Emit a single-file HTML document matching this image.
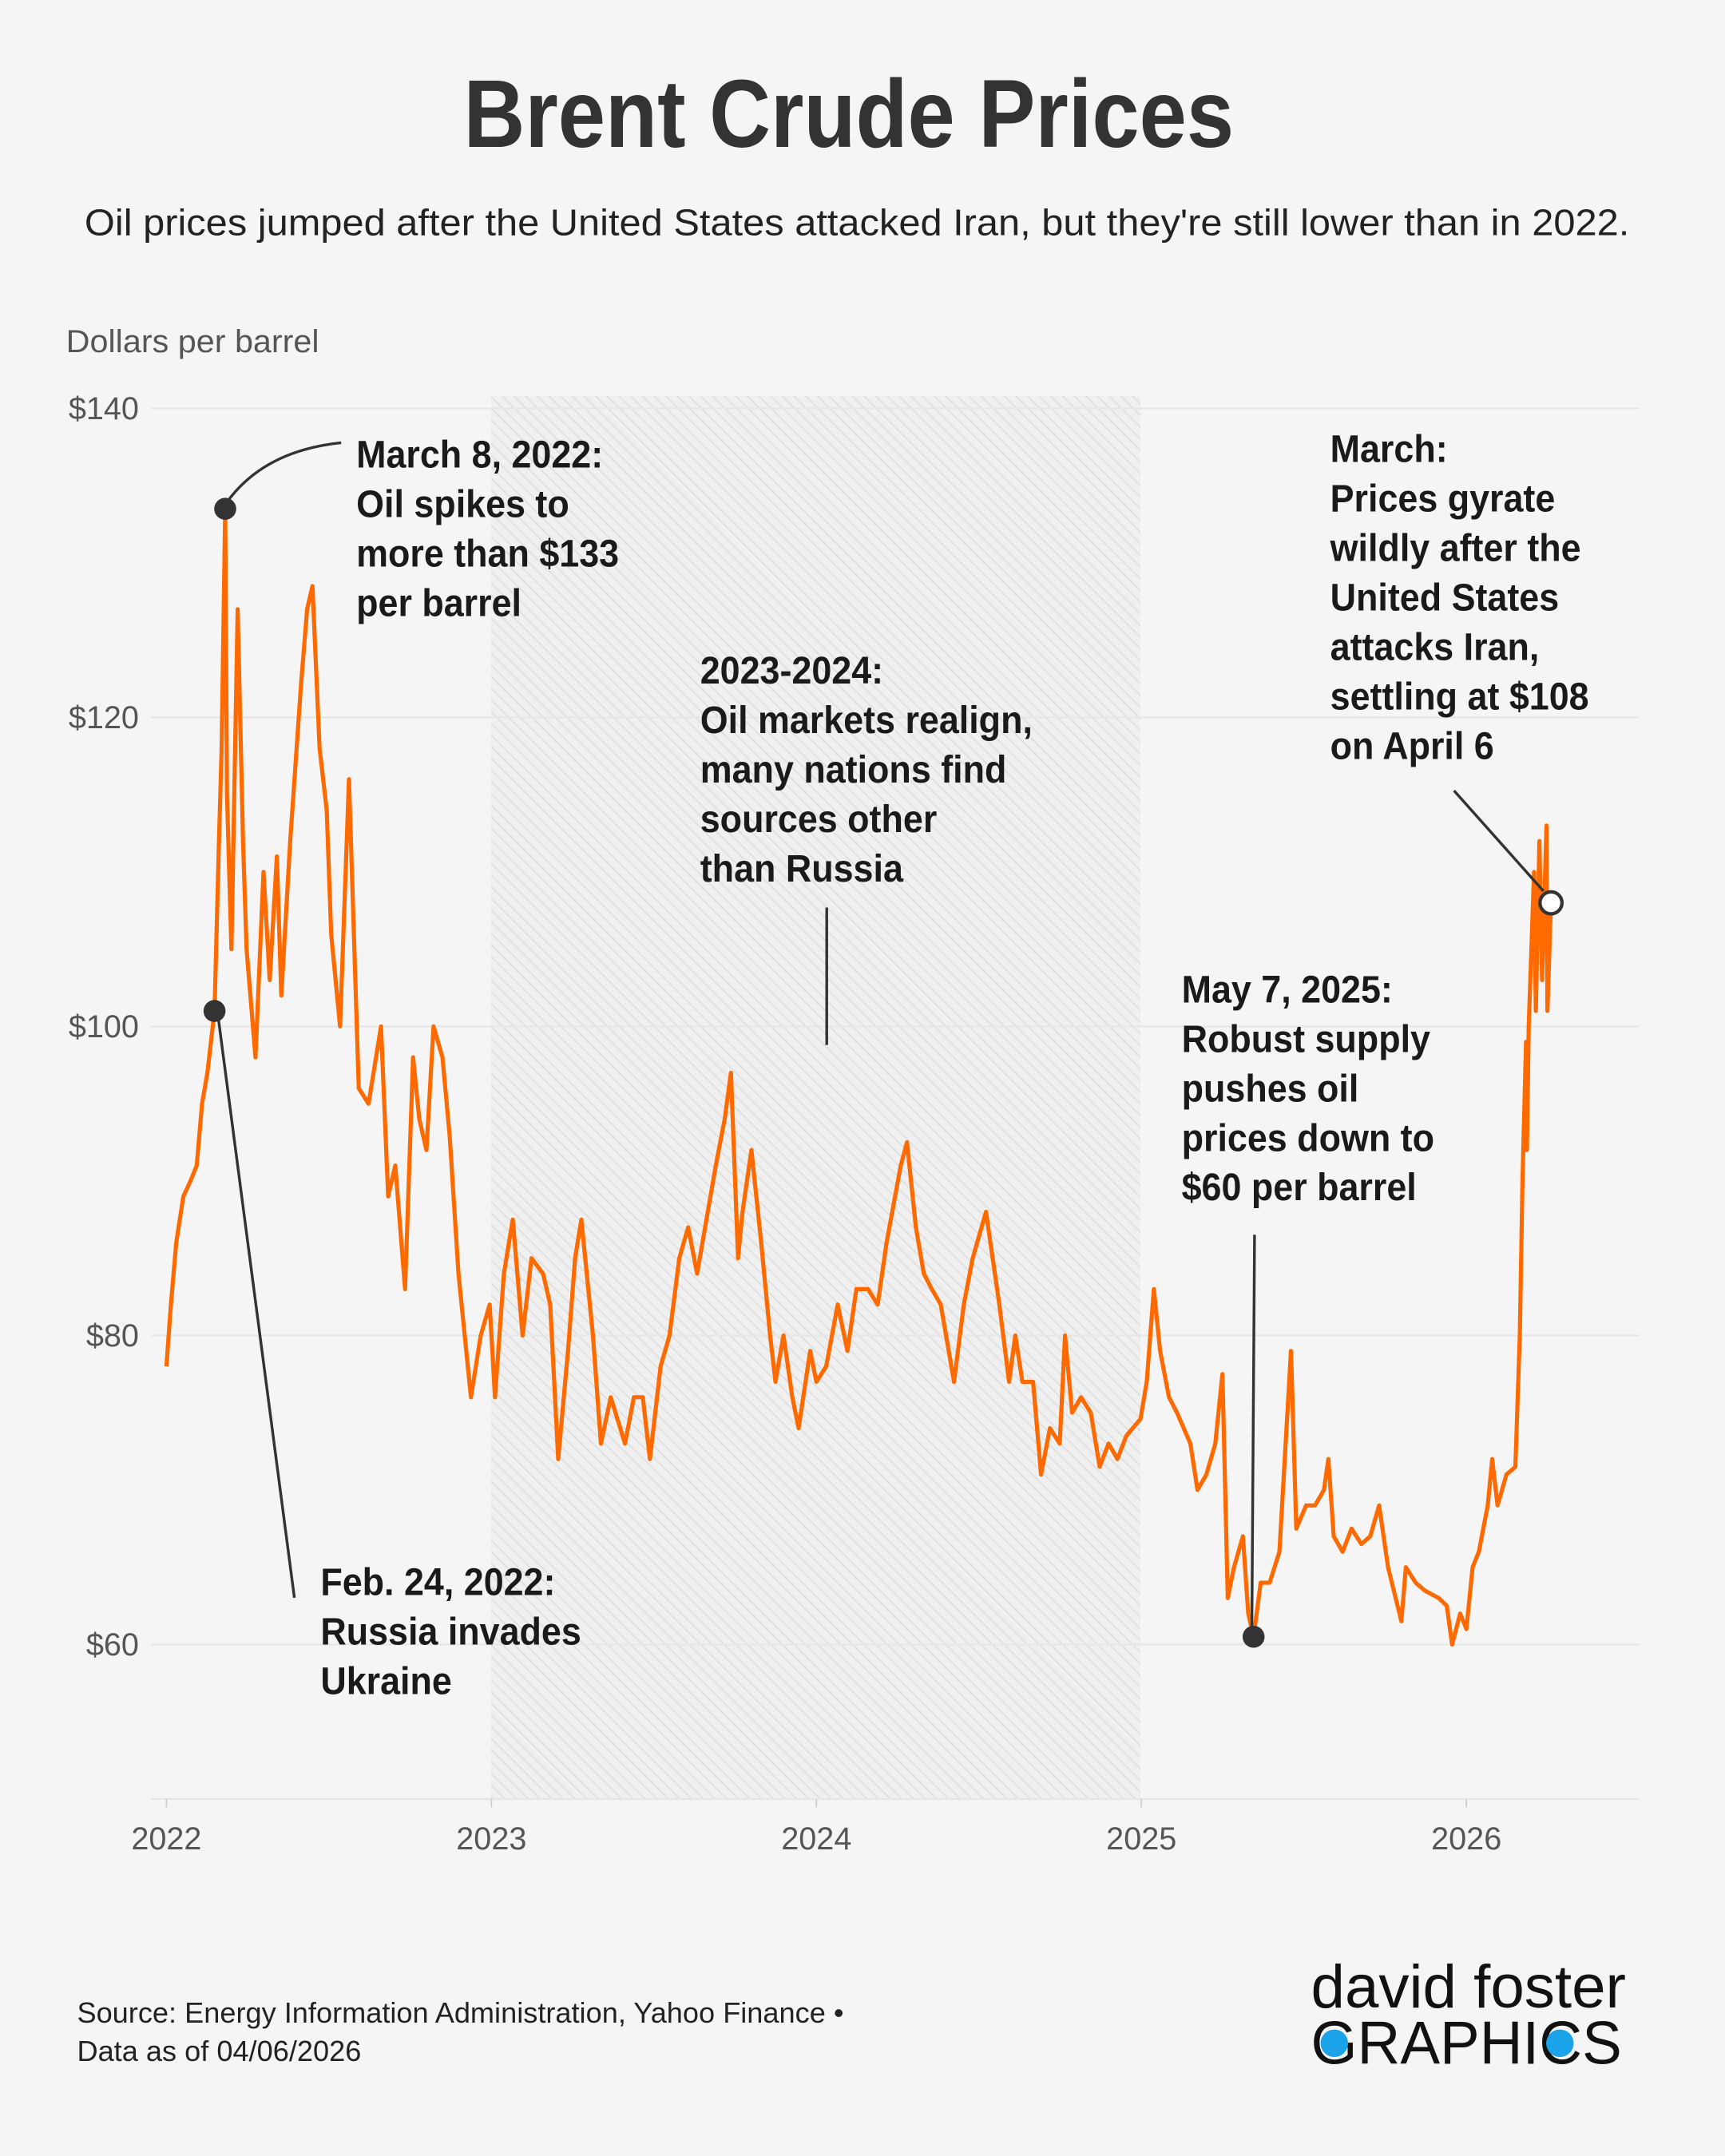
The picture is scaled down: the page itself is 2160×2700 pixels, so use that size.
<!DOCTYPE html>
<html><head><meta charset="utf-8"><style>
html,body{margin:0;padding:0;background:#f5f5f5;}
svg{display:block;}
.ann{font-family:"Liberation Sans Narrow","Liberation Sans",sans-serif;font-weight:bold;font-size:28px;fill:#1a1a1a;}
.tick{font-family:"Liberation Sans Narrow","Liberation Sans",sans-serif;font-size:23px;fill:#555;}
</style></head><body>
<svg id="chart" width="2160" height="2700" viewBox="0 0 1254 1568" preserveAspectRatio="none" xmlns="http://www.w3.org/2000/svg">
<defs>
<pattern id="hatch" width="6" height="6" patternUnits="userSpaceOnUse" patternTransform="rotate(-45)">
<rect width="6" height="6" fill="#f0f0f0"/><line x1="0" y1="0" x2="0" y2="6" stroke="#dedede" stroke-width="2"/>
</pattern>
</defs>
<rect width="1254" height="1568" fill="#f5f5f5"/>
<text x="617" y="107" text-anchor="middle" textLength="560" lengthAdjust="spacingAndGlyphs" font-family="Liberation Sans, sans-serif" font-weight="bold" font-size="70" fill="#333">Brent Crude Prices</text>
<text x="623" y="171" text-anchor="middle" textLength="1123" lengthAdjust="spacingAndGlyphs" font-family="Liberation Sans, sans-serif" font-size="27" fill="#222">Oil prices jumped after the United States attacked Iran, but they're still lower than in 2022.</text>
<text x="48" y="256" textLength="184" lengthAdjust="spacingAndGlyphs" class="tick" font-size="24">Dollars per barrel</text>
<rect x="357" y="288" width="472" height="1020" fill="url(#hatch)"/>
<g id="grid"></g>
<g id="ticks"></g>
<g id="series"></g>
<g id="ann">
<path d="M163,368 Q190,328 248,322" fill="none" stroke="#333" stroke-width="2"/>
<line x1="158" y1="735" x2="214" y2="1162" stroke="#333" stroke-width="2"/>
<line x1="601" y1="660" x2="601" y2="760" stroke="#333" stroke-width="2"/>
<line x1="912" y1="898" x2="910" y2="1190" stroke="#333" stroke-width="2"/>
<line x1="1057" y1="575" x2="1122" y2="648" stroke="#333" stroke-width="2"/>
<g transform="translate(259,0) scale(0.93,1)"><text class="ann"><tspan x="0" y="340">March 8, 2022:</tspan><tspan x="0" y="376">Oil spikes to</tspan><tspan x="0" y="412">more than $133</tspan><tspan x="0" y="448">per barrel</tspan></text></g>
<g transform="translate(233,0) scale(0.93,1)"><text class="ann"><tspan x="0" y="1160">Feb. 24, 2022:</tspan><tspan x="0" y="1196">Russia invades</tspan><tspan x="0" y="1232">Ukraine</tspan></text></g>
<g transform="translate(509,0) scale(0.93,1)"><text class="ann"><tspan x="0" y="497">2023-2024:</tspan><tspan x="0" y="533">Oil markets realign,</tspan><tspan x="0" y="569">many nations find</tspan><tspan x="0" y="605">sources other</tspan><tspan x="0" y="641">than Russia</tspan></text></g>
<g transform="translate(859,0) scale(0.93,1)"><text class="ann"><tspan x="0" y="729">May 7, 2025:</tspan><tspan x="0" y="765">Robust supply</tspan><tspan x="0" y="801">pushes oil</tspan><tspan x="0" y="837">prices down to</tspan><tspan x="0" y="873">$60 per barrel</tspan></text></g>
<g transform="translate(967,0) scale(0.93,1)"><text class="ann"><tspan x="0" y="336">March:</tspan><tspan x="0" y="372">Prices gyrate</tspan><tspan x="0" y="408">wildly after the</tspan><tspan x="0" y="444">United States</tspan><tspan x="0" y="480">attacks Iran,</tspan><tspan x="0" y="516">settling at $108</tspan><tspan x="0" y="552">on April 6</tspan></text></g>
</g>
<g id="dots"></g>
<text font-family="Liberation Sans Narrow, Liberation Sans, sans-serif" font-size="21" fill="#222"><tspan x="56" y="1471">Source: Energy Information Administration, Yahoo Finance •</tspan><tspan x="56" y="1499">Data as of 04/06/2026</tspan></text>
<g>
<text x="953" y="1460" textLength="229" lengthAdjust="spacingAndGlyphs" font-family="Liberation Sans, sans-serif" font-size="44" fill="#111">david foster</text>
<text x="953" y="1501" textLength="226" lengthAdjust="spacingAndGlyphs" font-family="Liberation Sans, sans-serif" font-size="44" fill="#111">GRAPHICS</text>
<circle cx="970" cy="1486" r="10" fill="#1aa3e8"/>
<circle cx="1134" cy="1486" r="10" fill="#1aa3e8"/>
</g>
</svg>
<script>
const dates=["2022-01-01","2022-01-06","2022-01-12","2022-01-20","2022-01-28","2022-02-04","2022-02-10","2022-02-16","2022-02-24","2022-03-01","2022-03-04","2022-03-08","2022-03-10","2022-03-15","2022-03-22","2022-03-28","2022-04-01","2022-04-11","2022-04-20","2022-04-27","2022-05-05","2022-05-10","2022-05-20","2022-06-01","2022-06-08","2022-06-14","2022-06-22","2022-06-30","2022-07-05","2022-07-15","2022-07-25","2022-08-05","2022-08-16","2022-08-30","2022-09-07","2022-09-15","2022-09-26","2022-10-05","2022-10-12","2022-10-20","2022-10-28","2022-11-07","2022-11-15","2022-11-25","2022-12-09","2022-12-20","2022-12-30",
"2023-01-05","2023-01-15","2023-01-25","2023-02-05","2023-02-15","2023-02-28","2023-03-08","2023-03-17","2023-03-28","2023-04-05","2023-04-12","2023-04-25","2023-05-04","2023-05-15","2023-05-31","2023-06-10","2023-06-20","2023-06-28","2023-07-10","2023-07-20","2023-07-31","2023-08-10","2023-08-20","2023-09-01","2023-09-10","2023-09-20","2023-09-27","2023-10-05","2023-10-10","2023-10-20","2023-10-31","2023-11-10","2023-11-16","2023-11-25","2023-12-05","2023-12-12","2023-12-25",
"2024-01-01","2024-01-12","2024-01-25","2024-02-05","2024-02-15","2024-02-28","2024-03-10","2024-03-20","2024-04-05","2024-04-12","2024-04-22","2024-05-01","2024-05-10","2024-05-20","2024-06-04","2024-06-15","2024-06-25","2024-07-05","2024-07-10","2024-07-25","2024-08-05","2024-08-12","2024-08-20","2024-09-01","2024-09-10","2024-09-20","2024-10-01","2024-10-07","2024-10-15","2024-10-25","2024-11-05","2024-11-15","2024-11-25","2024-12-05","2024-12-15","2024-12-31",
"2025-01-07","2025-01-15","2025-01-22","2025-02-01","2025-02-10","2025-02-25","2025-03-05","2025-03-15","2025-03-25","2025-04-02","2025-04-08","2025-04-15","2025-04-25","2025-05-01","2025-05-07","2025-05-15","2025-05-25","2025-06-05","2025-06-13","2025-06-18","2025-06-24","2025-07-05","2025-07-15","2025-07-25","2025-07-30","2025-08-05","2025-08-15","2025-08-25","2025-09-05","2025-09-15","2025-09-25","2025-10-05","2025-10-20","2025-10-25","2025-11-05","2025-11-15","2025-12-01","2025-12-10","2025-12-16","2025-12-25",
"2026-01-01","2026-01-08","2026-01-15","2026-01-25","2026-01-30","2026-02-05","2026-02-15","2026-02-25","2026-03-02","2026-03-05","2026-03-09","2026-03-10","2026-03-12","2026-03-18","2026-03-20","2026-03-24","2026-03-27","2026-04-01","2026-04-02","2026-04-06"];
const prices=[78,82,86,89,90,91,95,97,101,112,118,133.5,115,105,127,112,105,98,110,103,111,102,112,122,127,128.5,118,114,106,100,116,96,95,100,89,91,83,98,94,92,100,98,93,84,76,80,82,
76,84,87.5,80,85,84,82,72,79,85,87.5,80,73,76,73,76,76,72,78,80,85,87,84,88,91,94,97,85,88,92,86,80,77,80,76,74,79,
77,78,82,79,83,83,82,86,91,92.5,87,84,83,82,77,82,85,87,88,82,77,80,77,77,71,74,73,80,75,76,75,71.5,73,72,73.5,74.6,
77,83,79,76,75,73,70,71,73,77.5,63,65,67,62,60.5,64,64,66,74,79,67.5,69,69,70,72,67,66,67.5,66.5,67,69,65,61.5,65,64,63.5,63,62.5,60,62,
61,65,66,69,72,69,71,71.5,80,90,99,92,100,110,101,112,103,113,101,108];
const yTicks=[60,80,100,120,140];
const yTickLabels=["$60","$80","$100","$120","$140"];
const xTicks=[2022,2023,2024,2025,2026];
const xTickLabels=["2022","2023","2024","2025","2026"];
const dotDates=["2022-02-24","2022-03-08","2025-05-07"];
const dotValues=[101,133.5,60.5];
const lastDate="2026-04-06", lastValue=108;

const NS="http://www.w3.org/2000/svg";
function yearFrac(s){const d=new Date(s+"T00:00:00Z");const y=d.getUTCFullYear();const s0=Date.UTC(y,0,1),s1=Date.UTC(y+1,0,1);return y+(d-s0)/(s1-s0);}
function xScale(yf){return 121+(yf-2022)*236.25;}
function yScale(v){return 297+(140-v)*11.2375;}
function mk(tag,attrs,parent){const e=document.createElementNS(NS,tag);for(const k in attrs)e.setAttribute(k,attrs[k]);parent.appendChild(e);return e;}

const grid=document.getElementById('grid');
const ticks=document.getElementById('ticks');
yTicks.forEach((v,i)=>{
  const l=mk('line',{x1:110,x2:1192,y1:yScale(v),y2:yScale(v),stroke:'#e6e6e6','stroke-width':1.2},grid);
  
  
  const t=mk('text',{x:101,y:yScale(v)+8,'text-anchor':'end',class:'tick'},ticks);
  t.textContent=yTickLabels[i];
  
  
});
const base=mk('line',{x1:110,x2:1192,y1:yScale(50),y2:yScale(50),stroke:'#e6e6e6','stroke-width':1.2},grid);


xTicks.forEach((yr,i)=>{
  const x=xScale(yr);
  const tl=mk('line',{x1:x,x2:x,y1:yScale(50),y2:yScale(50)+6,stroke:'#ccc','stroke-width':1},ticks);
  
  
  const t=mk('text',{x:x,y:1345,'text-anchor':'middle',class:'tick'},ticks);
  t.textContent=xTickLabels[i];
  
  
});
const series=document.getElementById('series');
const d=dates.map((s,i)=>(i?'L':'M')+xScale(yearFrac(s)).toFixed(2)+','+yScale(prices[i]).toFixed(2)).join(' ');
const p=mk('path',{d:d,fill:'none',stroke:'#ff6a00','stroke-width':3,'stroke-linejoin':'round'},series);


const dots=document.getElementById('dots');
dotDates.forEach((s,i)=>{
  const c=mk('circle',{cx:xScale(yearFrac(s)),cy:yScale(dotValues[i]),r:8,fill:'#333'},dots);
  
  
});
const lc=mk('circle',{cx:xScale(yearFrac(lastDate)),cy:yScale(lastValue),r:8,fill:'#fff',stroke:'#333','stroke-width':2.5},dots);


</script>
</body></html>
